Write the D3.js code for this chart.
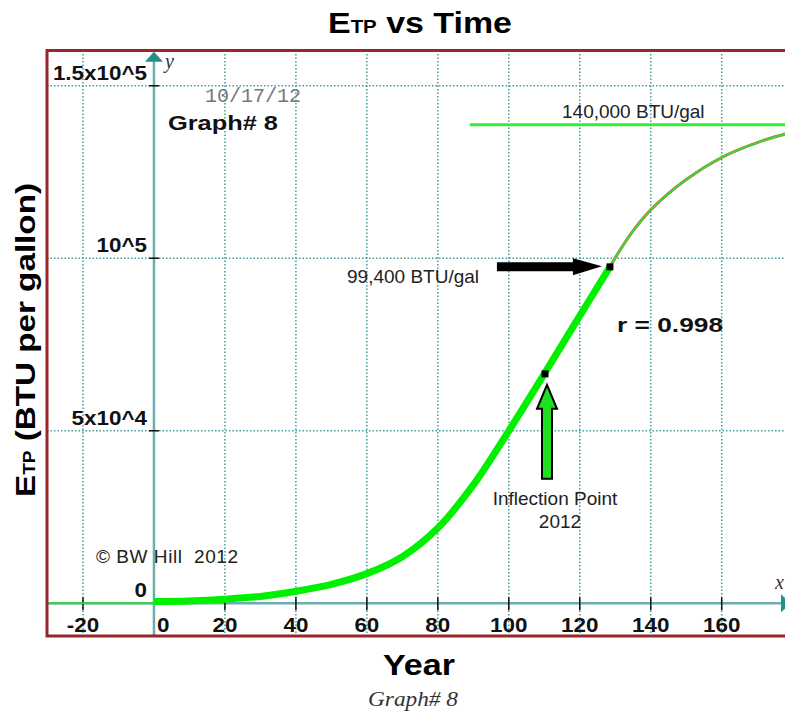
<!DOCTYPE html>
<html>
<head>
<meta charset="utf-8">
<script src="https://cdn.jsdelivr.net/npm/d3@7"></script>
<style>
  body { margin: 0; background: #fff; }
  svg { display: block; }
</style>
</head>
<body>
<div id="chart"></div>
<script>
// measured data (green band) : years since 1902 vs ETP in BTU/gal
const years = [0, 10, 20, 30, 40, 50, 60, 70, 80, 90, 100, 110, 120, 128.5];
const etp = [500, 700, 1200, 2000, 3500, 5500, 8600, 13500, 21800, 34300, 50000, 66500, 83300, 97500];

// fitted curve beyond the last data point
const fitYears = [128.5, 134, 140, 150, 160, 170, 178, 182];
const fitEtp = [97500, 106500, 114000, 122800, 129200, 133500, 136000, 136800];

// marked points: inflection (2012) and 99,400 BTU/gal
const markYears = [110.2, 128.5];
const markEtp = [66500, 97500];

const plateau = 138700;
const plateauStart = 89;

const xTicks = [-20, 0, 20, 40, 60, 80, 100, 120, 140, 160];
const yTicks = [0, 50000, 100000, 150000];
const yTickLabels = ["0", "5x10^4", "10^5", "1.5x10^5"];

const W = 785, H = 715;
const frame = { left: 47, top: 50.5, bottom: 636, right: 800 };

const svg = d3.select("#chart").append("svg")
    .attr("width", W)
    .attr("height", H);

const x = d3.scaleLinear().domain([-20, 160]).range([83, 721.7]);
const y = d3.scaleLinear().domain([0, 150000]).range([603.3, 85.7]);

const xMin = x.invert(frame.left);

svg.append("clipPath").attr("id", "plot")
  .append("rect")
    .attr("x", frame.left).attr("y", frame.top)
    .attr("width", frame.right - frame.left)
    .attr("height", frame.bottom - frame.top);

const plot = svg.append("g").attr("clip-path", "url(#plot)");

// stretch helper - the original bold face is wider than Arial
function stretch(sel, k) {
    sel.each(function () {
        const len = this.getComputedTextLength();
        d3.select(this).attr("textLength", len * k).attr("lengthAdjust", "spacingAndGlyphs");
    });
}

// grid
const gridColor = "#3f9c9c";
plot.append("g")
  .selectAll("line")
  .data(xTicks.filter(d => d !== 0))
  .join("line")
    .attr("x1", d => x(d)).attr("x2", d => x(d))
    .attr("y1", frame.top).attr("y2", frame.bottom)
    .attr("stroke", gridColor)
    .attr("stroke-width", 1.5)
    .attr("stroke-dasharray", "1.5,2");

plot.append("g")
  .selectAll("line")
  .data(yTicks.filter(d => d !== 0))
  .join("line")
    .attr("x1", frame.left).attr("x2", frame.right)
    .attr("y1", d => y(d)).attr("y2", d => y(d))
    .attr("stroke", gridColor)
    .attr("stroke-width", 1.5)
    .attr("stroke-dasharray", "1.5,2");

// axes
const axisColor = "#6aaeae";
plot.append("line")
    .attr("x1", x(0)).attr("x2", x(0))
    .attr("y1", frame.bottom).attr("y2", y(150000) - 28)
    .attr("stroke", axisColor).attr("stroke-width", 2.5);
plot.append("line")
    .attr("x1", frame.left).attr("x2", 784)
    .attr("y1", y(0)).attr("y2", y(0))
    .attr("stroke", axisColor).attr("stroke-width", 2.5);

// axis arrow heads
svg.append("path")
    .attr("d", `M${x(0)},${y(150000) - 34} l9,10 l-18,0 z`)
    .attr("fill", "#23908a");
svg.append("path")
    .attr("d", `M791,${y(0)} l-10,-9 l0,18 z`)
    .attr("fill", "#23908a");

// tick marks
plot.append("g")
  .selectAll("line")
  .data(xTicks.filter(d => d !== 0))
  .join("line")
    .attr("x1", d => x(d)).attr("x2", d => x(d))
    .attr("y1", y(0) - 6).attr("y2", y(0) + 7)
    .attr("stroke", "#111").attr("stroke-width", 1.5);
plot.append("g")
  .selectAll("line")
  .data(yTicks.filter(d => d !== 0))
  .join("line")
    .attr("x1", x(0) - 5).attr("x2", x(0) + 5)
    .attr("y1", d => y(d)).attr("y2", d => y(d))
    .attr("stroke", "#111").attr("stroke-width", 1.5);

// tick labels
const xl = svg.append("g")
  .selectAll("text")
  .data(xTicks)
  .join("text")
    .attr("x", d => d === 0 ? x(0) + 3 : x(d))
    .attr("y", 632)
    .attr("text-anchor", d => d === 0 ? "start" : "middle")
    .attr("font-family", "Liberation Sans, Arial, sans-serif")
    .attr("font-weight", "bold")
    .attr("font-size", 20)
    .attr("fill", "#111")
    .text(d => d);
stretch(xl, 1.12);

const yl = svg.append("g")
  .selectAll("text")
  .data(yTicks)
  .join("text")
    .attr("x", x(0) - 7)
    .attr("y", d => y(d) - 6)
    .attr("text-anchor", "end")
    .attr("font-family", "Liberation Sans, Arial, sans-serif")
    .attr("font-weight", "bold")
    .attr("font-size", 20)
    .attr("fill", "#111")
    .text((d, i) => yTickLabels[i]);
stretch(yl, 1.12);

// 140,000 plateau line
plot.append("line")
    .attr("x1", x(plateauStart)).attr("x2", frame.right)
    .attr("y1", y(plateau)).attr("y2", y(plateau))
    .attr("stroke", "#33ee33").attr("stroke-width", 3);

// flat part left of zero
plot.append("line")
    .attr("x1", x(xMin)).attr("x2", x(0))
    .attr("y1", y(0)).attr("y2", y(0))
    .attr("stroke", "#2fd82f").attr("stroke-width", 2);

// fitted curve
const fitData = fitYears.map((d, i) => [d, fitEtp[i]]);
const line = d3.line().x(d => x(d[0])).y(d => y(d[1])).curve(d3.curveCatmullRom.alpha(0.5));
plot.append("path")
    .attr("d", line(fitData))
    .attr("fill", "none").attr("stroke", "#c86a4a").attr("stroke-width", 3);
plot.append("path")
    .attr("d", line(fitData))
    .attr("fill", "none").attr("stroke", "#33dd33").attr("stroke-width", 2);

// data band
const data = years.map((d, i) => [d, etp[i]]);
plot.append("path")
    .attr("d", line(data))
    .attr("fill", "none")
    .attr("stroke", "#00f000")
    .attr("stroke-width", 7);

// markers
plot.append("g")
  .selectAll("rect")
  .data(markYears)
  .join("rect")
    .attr("x", d => x(d) - 3.5)
    .attr("y", (d, i) => y(markEtp[i]) - 3.5)
    .attr("width", 7).attr("height", 7)
    .attr("fill", "#000");

// black arrow to 99,400 point
const ax = x(markYears[1]) - 8, ay = y(markEtp[1]) - 0.5;
svg.append("path")
    .attr("d", `M${ax},${ay} l-29,-8 l0,4 l-76,0 l0,9 l76,0 l0,4 z`)
    .attr("fill", "#000");

// green arrow up to inflection point
const gx = x(markYears[0]) + 2, gy = y(markEtp[0]) + 11;
svg.append("path")
    .attr("d", `M${gx},${gy} l10,24 l-5,0 l0,70 l-10,0 l0,-70 l-5,0 z`)
    .attr("fill", "#1fe01f")
    .attr("stroke", "#000")
    .attr("stroke-width", 2)
    .attr("stroke-linejoin", "miter");

// frame
svg.append("path")
    .attr("d", `M${frame.right},${frame.top} L${frame.left},${frame.top} L${frame.left},${frame.bottom} L${frame.right},${frame.bottom}`)
    .attr("fill", "none")
    .attr("stroke", "#98262a")
    .attr("stroke-width", 3);

// annotations
const reg = "Liberation Sans, Arial, sans-serif";
function note(tx, ty, str, anchor) {
    return svg.append("text")
        .attr("x", tx).attr("y", ty)
        .attr("text-anchor", anchor || "start")
        .attr("font-family", reg)
        .attr("font-size", 19)
        .attr("fill", "#222")
        .style("white-space", "pre")
        .text(str);
}
note(562, 118, "140,000 BTU/gal");
note(347, 283, "99,400 BTU/gal");
note(555, 505, "Inflection Point", "middle");
note(560, 528, "2012", "middle");
note(96, 563, "© BW Hill  2012").attr("textLength", 142);

svg.append("text")
    .attr("x", 205).attr("y", 102)
    .attr("font-family", "Liberation Mono, Courier New, monospace")
    .attr("font-size", 20)
    .attr("fill", "#777")
    .text("10/17/12");

svg.append("text")
    .attr("x", 168).attr("y", 130)
    .attr("font-family", reg).attr("font-weight", "bold")
    .attr("font-size", 21).attr("fill", "#111")
    .attr("textLength", 110).attr("lengthAdjust", "spacingAndGlyphs")
    .text("Graph# 8");

svg.append("text")
    .attr("x", 617).attr("y", 332)
    .attr("font-family", reg).attr("font-weight", "bold")
    .attr("font-size", 21).attr("fill", "#111")
    .attr("textLength", 106).attr("lengthAdjust", "spacingAndGlyphs")
    .text("r = 0.998");

// axis variable letters
svg.append("text")
    .attr("x", 165).attr("y", 68)
    .attr("font-family", "Liberation Serif, Times New Roman, serif")
    .attr("font-style", "italic").attr("font-size", 20)
    .attr("fill", "#334")
    .text("y");
svg.append("text")
    .attr("x", 775).attr("y", 589)
    .attr("font-family", "Liberation Serif, Times New Roman, serif")
    .attr("font-style", "italic").attr("font-size", 20)
    .attr("fill", "#334")
    .text("x");

// title
const title = svg.append("text")
    .attr("x", 328).attr("y", 33)
    .attr("font-family", reg).attr("font-weight", "bold")
    .attr("font-size", 30).attr("fill", "#000")
    .attr("textLength", 184).attr("lengthAdjust", "spacingAndGlyphs");
title.append("tspan").text("E");
title.append("tspan").attr("font-size", 18).text("TP");
title.append("tspan").text(" vs Time");

// y axis title
const yTitle = svg.append("text")
    .attr("transform", "translate(35,497) rotate(-90)")
    .attr("font-family", reg).attr("font-weight", "bold")
    .attr("font-size", 28).attr("fill", "#000")
    .attr("textLength", 314).attr("lengthAdjust", "spacingAndGlyphs");
yTitle.append("tspan").text("E");
yTitle.append("tspan").attr("font-size", 16).text("TP");
yTitle.append("tspan").text(" (BTU per gallon)");

// x axis title
svg.append("text")
    .attr("x", 383).attr("y", 675)
    .attr("font-family", reg).attr("font-weight", "bold")
    .attr("font-size", 30).attr("fill", "#000")
    .attr("textLength", 72).attr("lengthAdjust", "spacingAndGlyphs")
    .text("Year");

// caption
svg.append("text")
    .attr("x", 368).attr("y", 706)
    .attr("font-family", "Liberation Serif, Times New Roman, serif")
    .attr("font-style", "italic").attr("font-size", 20)
    .attr("fill", "#333")
    .attr("textLength", 90).attr("lengthAdjust", "spacingAndGlyphs")
    .text("Graph# 8");
</script>
</body>
</html>
